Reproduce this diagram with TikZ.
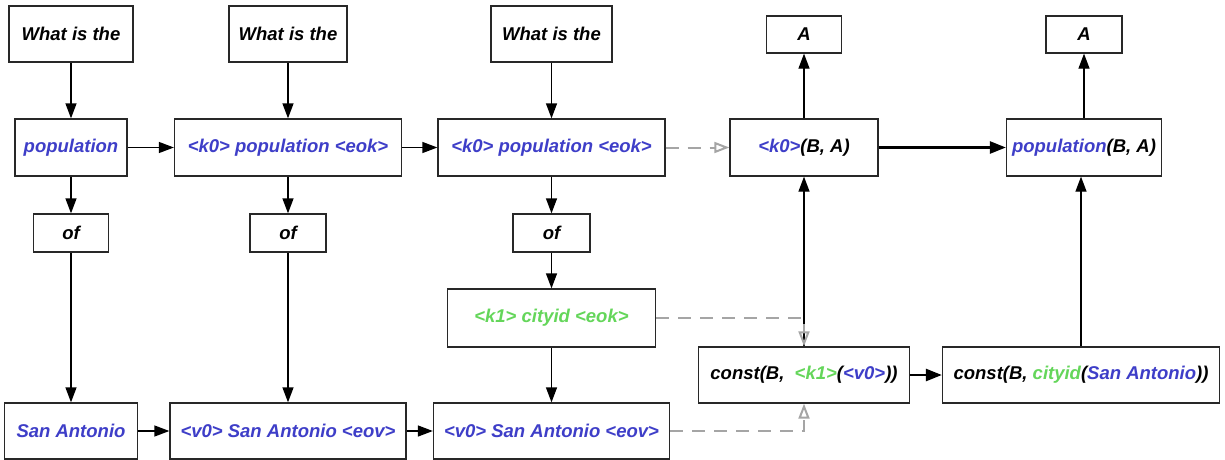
\documentclass[tikz,border=0pt]{standalone}
\usepackage{fontspec}
\setmainfont{Liberation Sans}
\usetikzlibrary{arrows.meta}
\definecolor{kblue}{RGB}{62,62,200}
\definecolor{kgreen}{RGB}{100,214,90}
\definecolor{dgrey}{RGB}{165,165,165}
\definecolor{edgec}{RGB}{40,40,40}

\tikzset{
  box/.style={draw=edgec, line width=1.3pt, fill=white, inner sep=0pt,
    font=\fontsize{18.5}{22}\selectfont\bfseries\itshape, text=black},
  link/.style={draw=black, line width=1.3pt, -{Triangle[length=15pt,width=11pt]}},
  boldlink/.style={draw=black, line width=2.6pt, -{Triangle[length=16pt,width=12pt]}},
  dlink/.style={draw=dgrey, line width=2pt, dash pattern=on 13pt off 9pt,
    -{Triangle[open,length=15pt,width=11pt]}},
}
\newcommand{\bl}[1]{\textcolor{kblue}{#1}}
\newcommand{\gr}[1]{\textcolor{kgreen}{#1}}

\begin{document}
\begin{tikzpicture}[x=1pt,y=-1pt]
  \useasboundingbox (0,0) rectangle (1225,460);

  % top row
  \node[box, minimum width=124pt, minimum height=56pt] (t1) at (71,34) {What is the};
  \node[box, minimum width=118pt, minimum height=56pt] (t2) at (288,34) {What is the};
  \node[box, minimum width=121pt, minimum height=56pt] (t3) at (551.5,34) {What is the};
  \node[box, minimum width=75pt, minimum height=37pt] (a1) at (804,34.5) {A};
  \node[box, minimum width=76pt, minimum height=37pt] (a2) at (1084,34.5) {A};

  % key row
  \node[box, minimum width=112pt, minimum height=57pt] (pop) at (71,147.5) {\bl{population}};
  \node[box, minimum width=227pt, minimum height=57pt] (p2) at (288,147.5) {\bl{<k0> population <eok>}};
  \node[box, minimum width=227pt, minimum height=57pt] (p3) at (551.5,147.5) {\bl{<k0> population <eok>}};
  \node[box, minimum width=148pt, minimum height=57pt] (k0) at (804,147.5) {\bl{<k0>}(B, A)};
  \node[box, minimum width=155pt, minimum height=57pt] (pba) at (1084,147.5) {\bl{population}(B, A)};

  % "of" row
  \node[box, minimum width=75pt, minimum height=38pt] (of1) at (71,233) {of};
  \node[box, minimum width=76pt, minimum height=38pt] (of2) at (288,233) {of};
  \node[box, minimum width=77pt, minimum height=38pt] (of3) at (551.5,233) {of};

  % constant row
  \node[box, minimum width=208pt, minimum height=58pt] (city) at (551.5,318) {\gr{<k1> cityid <eok>}};
  \node[box, minimum width=211pt, minimum height=56pt] (c1) at (804,375) {const(B,\ \ \gr{<k1>}(\bl{<v0>}))};
  \node[box, minimum width=277pt, minimum height=56pt] (c2) at (1081,375) {const(B, \gr{cityid}(\bl{San Antonio}))};

  % value row
  \node[box, minimum width=133pt, minimum height=56pt] (sa) at (71,431) {\bl{San Antonio}};
  \node[box, minimum width=236pt, minimum height=56pt] (v2) at (288,431) {\bl{<v0> San Antonio <eov>}};
  \node[box, minimum width=236pt, minimum height=56pt] (v3) at (551.5,431) {\bl{<v0> San Antonio <eov>}};

  % vertical flow
  \draw[link] (t1) -- (pop);
  \draw[link] (t2) -- (p2);
  \draw[link] (t3) -- (p3);
  \draw[link] (pop) -- (of1);
  \draw[link] (p2) -- (of2);
  \draw[link] (p3) -- (of3);
  \draw[link] (of1) -- (sa);
  \draw[link] (of2) -- (v2);
  \draw[link] (of3) -- (city);
  \draw[link] (city) -- (v3);

  % horizontal flow
  \draw[link] (pop) -- (p2);
  \draw[link] (p2) -- (p3);
  \draw[link] (sa) -- (v2);
  \draw[link] (v2) -- (v3);

  % logical form
  \draw[link] (k0) -- (a1);
  \draw[link] (pba) -- (a2);
  \draw[link] (c1) -- (k0);
  \draw[link] (c2.north) -- (c2.north |- pba.south);
  \draw[boldlink] (k0) -- (pba);
  \draw[boldlink] (c1) -- (c2);

  % alignments
  \draw[dlink] (p3) -- (k0);
  \draw[dlink] (city.east) -| (c1.north);
  \draw[dlink] (v3.east) -| (c1.south);
\end{tikzpicture}
\end{document}
